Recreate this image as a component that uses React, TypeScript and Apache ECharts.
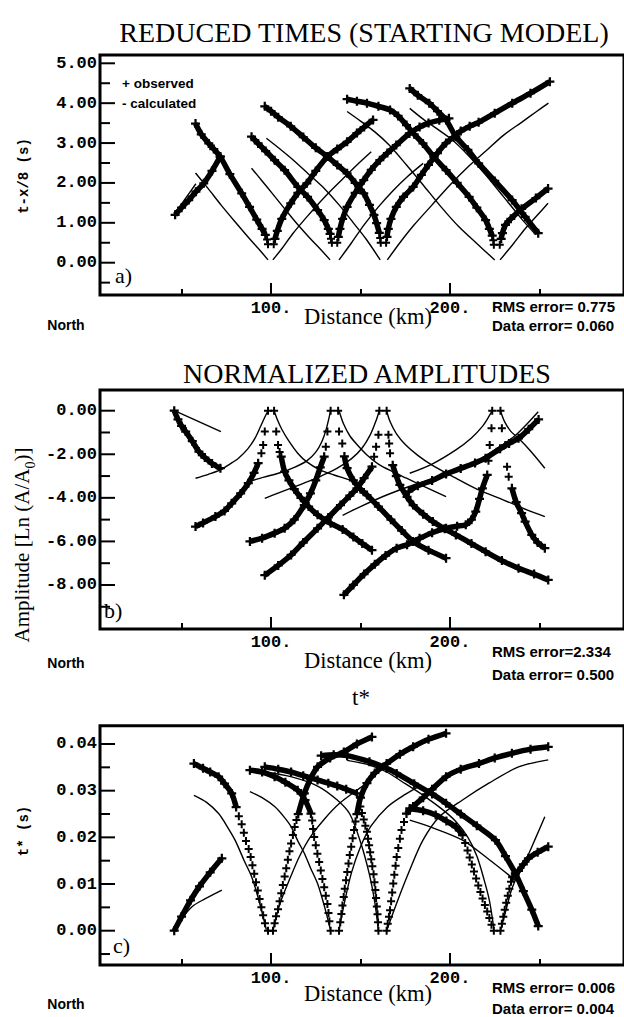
import React, { useEffect, useRef } from "react";
import * as echarts from "echarts";

// ---------------- DATA ----------------
// Panel a) reduced times: observed (dense branches + sparse points), calculated lines
const obsA1 = [[46.4,1.2],[50,1.38],[54,1.57],[58,1.78],[62.4,1.99],[67,2.3],[71.6,2.66]];
const obsA2 = [[57.8,3.49],[61,3.22],[65.2,2.99],[68,2.85],[71.6,2.66],[77,2.22],[83.6,1.74],[88,1.4],[92,1.08],[95,0.85],[96.8,0.7]];
const obsA2s = [[97.8,0.58],[98.3,0.46],[101.5,0.46]];
const obsA3 = [[102.2,0.6],[103.5,0.8],[106,1.1],[111,1.49],[115,1.75],[120,1.99],[125,2.3],[131.5,2.66],[137,2.85],[142.5,3.03],[148,3.25],[152,3.4],[157,3.58]];
const obsA4 = [[89.1,3.16],[92.8,2.99],[97,2.8],[102,2.57],[107.6,2.32],[115,1.9],[120.4,1.65],[126,1.32],[129.7,1.07],[132,0.85],[133,0.72]];
const obsA4s = [[133.5,0.6],[134,0.5],[137,0.5]];
const obsA5 = [[137.6,0.65],[138.5,0.85],[140,1.1],[142.5,1.4],[147,1.75],[151.8,2.07],[156,2.33],[160.8,2.57],[165,2.75],[170,2.95],[177.3,3.24],[183,3.4],[188,3.5],[194,3.57],[199.4,3.62]];
const obsA6 = [[96.5,3.92],[100,3.8],[104,3.65],[111,3.42],[118,3.15],[125,2.88],[131.5,2.66],[137,2.45],[142.5,2.24],[147,2.0],[151.8,1.74],[155,1.45],[157.5,1.2],[159,0.99],[160.5,0.75]];
const obsA6s = [[161,0.62],[161.3,0.5],[164.3,0.5]];
const obsA7 = [[164.8,0.65],[165.5,0.85],[167,1.1],[170,1.4],[174,1.65],[179.4,1.9],[184,2.2],[188,2.45],[193,2.75],[197.8,3.0],[202,3.15],[206,3.3],[211,3.42],[216,3.52],[225,3.75],[234.8,4.0],[245,4.25],[255.8,4.54]];
const obsA8 = [[142.5,4.1],[148,4.05],[153.6,4.0],[160,3.92],[166.5,3.83],[171,3.68],[175.7,3.45],[180,3.22],[184.9,2.99],[191,2.65],[197.8,2.32],[204,2.0],[210.7,1.65],[215,1.38],[219.9,1.07],[222,0.85],[223.6,0.68]];
const obsA8s = [[224.2,0.56],[224.5,0.45],[227.8,0.45]];
const obsA9 = [[228.6,0.6],[229.3,0.74],[231,0.95],[234,1.1],[240,1.35],[248,1.62],[254.8,1.86]];
const obsA10 = [[177.5,4.37],[182,4.2],[188.4,4.0],[193,3.8],[197.8,3.58],[203.3,3.16],[210,2.83],[216,2.49],[225,2.05],[234.7,1.57],[242,1.15],[249.3,0.74]];

const calcA0 = [[46.5,1.25],[52,1.6],[58,1.98]];
const calcA1 = [[57.8,2.25],[65,1.85],[72,1.45],[80,1.02],[88,0.6],[94,0.3],[98.3,0.07]];
const calcA2 = [[101,0.07],[106,0.35],[112,0.72],[120,1.15],[130,1.65],[140,2.1],[148,2.45],[156,2.78]];
const calcA3 = [[89.1,2.37],[95,2.05],[101,1.72],[108,1.33],[115,0.95],[122,0.6],[128,0.32],[133,0.07]];
const calcA4 = [[138,0.07],[145,0.5],[152,0.95],[160,1.4],[168,1.8],[176,2.15],[185,2.49]];
const calcA5 = [[97.4,3.12],[105,2.85],[113,2.55],[121,2.22],[130,1.85],[138,1.45],[146,1.0],[153,0.6],[161,0.07]];
const calcA6 = [[165,0.07],[172,0.5],[180,0.95],[190,1.45],[200,1.95],[210,2.4],[220,2.8],[230,3.2],[240,3.52],[248,3.78],[255,4.0]];
const calcA7 = [[142.5,3.79],[150,3.55],[158,3.28],[166,2.95],[175.7,2.45],[185,1.95],[195,1.4],[205,0.9],[215,0.48],[225,0.07]];
const calcA8 = [[228,0.07],[235,0.45],[242,0.85],[248,1.15],[254.8,1.49]];
const calcA9 = [[177.5,3.87],[185,3.6],[192,3.38],[201.5,3.07],[210,2.7],[220,2.2],[230,1.65],[240,1.1],[248,0.7]];

// Panel b) normalized amplitudes
const obsB1 = [[45.9,0],[48,-0.4],[50,-0.7],[52.3,-0.96],[56,-1.4],[59.7,-1.88],[63,-2.15],[67,-2.42],[71.7,-2.64]];
const obsB2 = [[57.8,-5.32],[62,-5.15],[68.9,-4.86],[74,-4.6],[78,-4.25],[83,-3.8],[87.3,-3.33],[90.5,-2.85],[92.8,-2.41]];
const obsB2s = [[94.6,-1.95],[95.6,-1.57],[96.5,-0.96],[98.3,0],[101.7,0],[102.9,-0.96],[103.9,-1.57],[104.8,-1.9]];
const obsB3 = [[105.7,-2.11],[107.6,-2.8],[110,-3.2],[113,-3.6],[116.7,-4.0],[121,-4.4],[126,-4.78],[133.3,-5.17],[140,-5.45],[146,-5.8],[151,-6.1],[156.4,-6.4]];
const obsB4 = [[88.2,-6.0],[95,-5.85],[102,-5.62],[107.6,-5.4],[113,-5.0],[118.6,-4.33],[122,-3.8],[125,-3.2],[127.5,-2.6],[129.7,-2.11]];
const obsB4s = [[130.6,-1.65],[131.5,-0.96],[133.3,0],[137.5,0],[138,-0.96],[139.8,-1.5]];
const obsB5 = [[141,-2.1],[142.5,-2.64],[146,-3.2],[150,-3.6],[153.6,-3.87],[160,-4.4],[167,-5.0],[173,-5.5],[179.4,-6.0],[188,-6.4],[197.8,-6.77]];
const obsB6 = [[96.5,-7.55],[104,-7.1],[111.2,-6.62],[118,-6.05],[126,-5.4],[132,-4.9],[138.8,-4.33],[144,-3.9],[148,-3.56],[152,-3.1],[156.4,-2.57]];
const obsB6s = [[157.6,-2.11],[158.7,-1.65],[160,-1.1],[160.5,0],[164.6,0],[165.6,-1.1],[166,-1.5],[166.5,-1.95]];
const obsB7 = [[168,-2.5],[170,-3.0],[172,-3.41],[176,-3.95],[179.4,-4.33],[185,-4.75],[190.4,-5.09],[197,-5.42],[203.3,-5.7],[212,-6.1],[219.9,-6.47],[229,-6.88],[238.3,-7.23],[247,-7.5],[254.9,-7.77]];
const obsB8 = [[140.7,-8.45],[146,-8.0],[152,-7.5],[158,-7.05],[164,-6.65],[170.2,-6.31],[176,-6.15],[183,-5.86],[190,-5.6],[197.8,-5.4],[204,-5.3],[208.8,-5.24],[212,-5.0],[214.4,-4.63],[216.5,-4.05],[218.1,-3.56],[220.8,-2.95]];
const obsB8s = [[221.5,-2.3],[222.2,-1.57],[223.2,-0.8],[223.6,0],[228.2,0],[229,-0.8],[230.9,-1.57],[231.9,-2.57],[232.8,-3.03]];
const obsB9 = [[234.6,-3.56],[237,-4.2],[240,-4.7],[242,-5.09],[245.7,-5.7],[249,-6.05],[253,-6.31]];
const obsB10 = [[177,-3.7],[182,-3.45],[190,-3.2],[197.8,-2.9],[206,-2.65],[214,-2.4],[219.9,-2.18],[228,-1.75],[233,-1.5],[238.3,-1.27],[244,-0.85],[249.5,-0.4]];

const calcB1 = [[46,0],[72,-0.96]];
const calcB2 = [[57.8,-3.1],[65,-2.92],[71.7,-2.72],[77,-2.45],[81.8,-2.18],[87,-1.75],[91,-1.27],[94,-0.75],[96.5,-0.3],[98.3,0]];
const calcB3 = [[101.7,0],[103.5,-0.4],[106,-0.85],[110,-1.4],[114.9,-1.95],[120,-2.35],[127,-2.7],[135.2,-2.95],[143,-3.15],[150,-3.35]];
const calcB4 = [[87.3,-3.26],[96,-3.05],[105,-2.85],[113,-2.6],[120,-2.3],[125,-1.9],[128.5,-1.4],[131,-0.8],[133.3,0]];
const calcB5 = [[138,0],[140.5,-0.6],[144,-1.15],[148,-1.55],[153.6,-2.03],[160,-2.45],[168,-2.8],[175.7,-3.1],[186,-3.5],[197.8,-3.94]];
const calcB6 = [[96.5,-4.02],[105,-3.75],[113,-3.5],[120.4,-3.26],[128,-3.0],[137,-2.64],[145,-2.2],[151,-1.7],[155.5,-1.1],[158.5,-0.5],[160.5,0]];
const calcB7 = [[164.6,0],[166.5,-0.5],[170,-1.05],[175,-1.55],[182,-2.05],[190,-2.5],[203.3,-3.1],[215,-3.6],[230,-4.1],[243,-4.55],[253,-4.86]];
const calcB8 = [[140,-4.8],[150,-4.4],[164.6,-3.87],[180,-3.4],[197.8,-2.95],[212,-2.45],[225,-1.8],[237,-1.1],[249.3,-0.05]];
const calcB9 = [[177.5,-2.87],[190,-2.45],[203.3,-1.8],[212,-1.25],[218,-0.73],[221.5,-0.3],[223.6,0]];
const calcB10 = [[228.2,0],[230.5,-0.5],[234,-0.95],[238.3,-1.27],[245,-1.85],[253,-2.64]];

// Panel c) t*
const obsC1 = [[45.9,0],[50,0.003],[55,0.0065],[60,0.0095],[66,0.0125],[72.5,0.0155]];
const obsC2 = [[56.9,0.0358],[62,0.0348],[66,0.034],[70.7,0.033],[74,0.0315],[78,0.0294],[80.5,0.0265]];
const obsC2s = [[82,0.0245],[83.6,0.0228],[84.8,0.021],[86,0.0192],[87.5,0.0175],[88.6,0.0158],[89.6,0.014],[90.6,0.0122],[91.6,0.0104],[92.6,0.0086],[93.6,0.0068],[94.6,0.005],[95.6,0.0033],[96.6,0.0016],[98.3,0]];
const obsC3s = [[101.1,0],[102,0.0016],[102.8,0.0031],[103.9,0.0046],[104.8,0.0063],[105.7,0.008],[106.6,0.0098],[107.6,0.0116],[108.5,0.0134],[109.4,0.0152],[110.3,0.017],[111.2,0.0187],[112.2,0.0205],[113.2,0.0222],[114.2,0.0237]];
const obsC3 = [[115.2,0.025],[118.6,0.0294],[122,0.0325],[126,0.0351],[133,0.037],[140.7,0.0383],[148,0.04],[156.4,0.0415]];
const obsC4 = [[88.2,0.0344],[95,0.034],[102,0.033],[108,0.0318],[114.9,0.0301],[119,0.028],[122.3,0.0251]];
const obsC4s = [[123,0.0236],[123.5,0.0218],[124.1,0.0201],[125,0.0183],[125.9,0.0165],[126.9,0.0147],[127.8,0.0129],[128.7,0.0111],[129.7,0.0093],[130.6,0.0075],[131.5,0.0057],[132.1,0.0038],[132.6,0.002],[133.3,0]];
const obsC5s = [[138,0],[138.7,0.0018],[139.3,0.0036],[139.9,0.0054],[140.6,0.0072],[141.2,0.009],[141.9,0.0108],[142.6,0.0126],[143.3,0.0144],[144,0.0162],[144.8,0.018],[145.6,0.0198],[146.4,0.0216],[147.2,0.0234]];
const obsC5 = [[148,0.025],[150,0.0285],[153.6,0.0316],[158,0.0338],[164.6,0.0358],[172,0.0378],[179.4,0.0394],[188,0.041],[197.8,0.0423]];
const obsC6 = [[96.5,0.0351],[104,0.0346],[111.2,0.034],[118,0.0332],[126,0.0323],[132,0.0316],[137,0.031],[142,0.0303],[148,0.0294]];
const obsC6s = [[149.9,0.0266],[150.8,0.0252],[151.8,0.0238],[152.7,0.0225],[153.6,0.0212],[154.2,0.0197],[154.8,0.0183],[155.4,0.0168],[156,0.0153],[156.6,0.0138],[157.3,0.0121],[157.8,0.0104],[158.3,0.0087],[158.7,0.007],[159.1,0.0052],[159.5,0.0035],[159.8,0.0018],[160,0]];
const obsC7s = [[164.6,0],[165.2,0.0015],[165.9,0.003],[166.5,0.0044],[167.1,0.0063],[167.7,0.0082],[168.3,0.0101],[168.9,0.012],[169.6,0.0139],[170.2,0.0158],[171.1,0.0177],[172,0.0197],[172.9,0.0216],[174.3,0.0233]];
const obsC7 = [[175.7,0.0251],[179.4,0.0266],[185,0.0285],[190,0.0303],[197.8,0.033],[206,0.0346],[216.2,0.0358],[225,0.037],[234.6,0.038],[245,0.0389],[254.9,0.0394]];
const obsC8 = [[177.5,0.0262],[185,0.0257],[192,0.0248],[198,0.0235],[203.3,0.0222],[207,0.0205]];
const obsC8s = [[208.5,0.0188],[209.8,0.0172],[211,0.0157],[212.2,0.0142],[213.4,0.0127],[214.6,0.0112],[215.8,0.0097],[217,0.0083],[218.2,0.0069],[219.5,0.0055],[220.8,0.0041],[222,0.0027],[223.2,0.0013],[224.5,0]];
const obsC9 = [[128,0.0375],[135,0.0377],[142.5,0.0375],[155,0.0362],[164.6,0.0348],[170.2,0.0337],[180,0.0315],[190,0.0293],[197.8,0.0273],[206,0.025],[215,0.0225],[225.4,0.0194],[231,0.016],[236.5,0.0123],[241,0.0085],[245.7,0.0045],[249.3,0.001]];
const obsC10s = [[228.2,0],[229,0.0015],[229.8,0.003],[230.6,0.0045],[231.4,0.006],[232.3,0.0075],[233.2,0.009],[234.1,0.0105]];
const obsC10 = [[235,0.0115],[238.3,0.0128],[241,0.0142],[243.8,0.0155],[249,0.0168],[254.9,0.018]];

const calcC1 = [[46,0],[50,0.0025],[56,0.0052],[63,0.0068],[72.5,0.0087]];
const calcC2 = [[56.9,0.029],[64,0.0275],[70.7,0.0251],[76,0.022],[79.9,0.0194],[85,0.015],[89.1,0.0116],[93,0.0068],[97.4,0.0002]];
const calcC3 = [[101.1,0],[105,0.0058],[111,0.0116],[116,0.016],[122,0.0201],[130,0.024],[138,0.0272],[148,0.0301],[156.4,0.0323]];
const calcC4 = [[88.2,0.0298],[95,0.0285],[102,0.0266],[107,0.0245],[111.2,0.0223],[115,0.0192],[118.6,0.0166],[122,0.0135],[126,0.0101],[130,0.005],[133.3,0]];
const calcC5 = [[138,0],[141,0.006],[145,0.0125],[150,0.018],[156,0.0225],[165,0.0265],[175,0.0292],[184,0.0312]];
const calcC6 = [[96.5,0.034],[111,0.033],[126,0.031],[137,0.028],[144,0.025],[150,0.019],[155,0.012],[158,0.006],[160,0]];
const calcC7 = [[164.6,0],[170.2,0.0059],[177.5,0.013],[184.9,0.0194],[194.1,0.0244],[207,0.028],[221.7,0.0316],[238.3,0.0351],[254.9,0.0366]];
const calcC8 = [[142.5,0.0365],[155,0.0355],[164.6,0.034],[175,0.0315],[185,0.029],[195,0.0262],[203,0.0235],[210,0.02],[215,0.016],[219,0.011],[222,0.0065],[224.5,0.0005]];
const calcC9 = [[177.5,0.0237],[188.6,0.0223],[207,0.0194],[222,0.0152],[236.5,0.0108]];
const calcC10 = [[228.2,0],[231,0.004],[234,0.0083],[236.5,0.0108],[240,0.0135],[244,0.0165],[248,0.02],[253,0.0244]];

// Axis ticks / labels
const xMajorTicks = [100, 200];
const xMinorTicks = [50, 150, 250];
const yMajorA = [0, 1, 2, 3, 4, 5];
const yMinorA = [-0.5, 0.5, 1.5, 2.5, 3.5, 4.5];
const yMajorB = [-8, -6, -4, -2, 0];
const yMinorB = [-9, -7, -5, -3, -1];
const yMajorC = [0, 0.01, 0.02, 0.03, 0.04];
const yMinorC = [-0.005, 0.005, 0.015, 0.025, 0.035];

const titles = ["REDUCED TIMES (STARTING MODEL)", "NORMALIZED AMPLITUDES", "t*"];
const rmsTexts = ["RMS error= 0.775", "RMS error=2.334", "RMS error= 0.006"];
const dataErrTexts = ["Data error= 0.060", "Data error= 0.500", "Data error= 0.004"];
const panelLetters = ["a)", "b)", "c)"];

// ---------------- LAYOUT ----------------
const XMIN = 100 - 173 / 1.81;
const XMAX = 100 + 357 / 1.81;
const GRID_LEFT = 100;
const GRIDS = [
  { top: 55, height: 240, ymin: -0.81, ymax: 5.208 },
  { top: 390, height: 239, ymin: -10.02, ymax: 0.95 },
  { top: 725.7, height: 239.3, ymin: -0.00735, ymax: 0.04392 },
];
const PLUS = "path://M3,0H5V3H8V5H5V8H3V5H0V3H3Z";
const MONO = '"Liberation Mono", "DejaVu Sans Mono", monospace';
const SERIF = '"Liberation Serif", "DejaVu Serif", serif';
const SANS = '"Liberation Sans", Arial, sans-serif';

const obsDense = [
  [obsA1, obsA2, obsA3, obsA4, obsA5, obsA6, obsA7, obsA8, obsA9, obsA10],
  [obsB1, obsB2, obsB3, obsB4, obsB5, obsB6, obsB7, obsB8, obsB9, obsB10],
  [obsC1, obsC2, obsC3, obsC4, obsC5, obsC6, obsC7, obsC8, obsC9, obsC10],
];
const obsSparse = [
  [obsA2s, obsA4s, obsA6s, obsA8s],
  [obsB2s, obsB4s, obsB6s, obsB8s],
  [obsC2s, obsC3s, obsC4s, obsC5s, obsC6s, obsC7s, obsC8s, obsC10s],
];
const calcLines = [
  [calcA0, calcA1, calcA2, calcA3, calcA4, calcA5, calcA6, calcA7, calcA8, calcA9],
  [calcB1, calcB2, calcB3, calcB4, calcB5, calcB6, calcB7, calcB8, calcB9, calcB10],
  [calcC1, calcC2, calcC3, calcC4, calcC5, calcC6, calcC7, calcC8, calcC9, calcC10],
];
const yMajors = [yMajorA, yMajorB, yMajorC];
const yMinors = [yMinorA, yMinorB, yMinorC];

// pixel y of an axis value (same linear mapping as the value axis), refined with convertToPixel when possible
function tickY(p: number, v: number) {
  const g = GRIDS[p];
  return g.top + (g.height * (g.ymax - v)) / (g.ymax - g.ymin);
}

function yTickElements(chart?: any) {
  const out: any[] = [];
  for (let p = 0; p < 3; p++) {
    const sets: [number[], number, string][] = [[yMajors[p], 15, "M"], [yMinors[p], 10, "m"]];
    sets.forEach(([vals, len, tag]) => {
      vals.forEach((v, i) => {
        let y = tickY(p, v);
        if (chart) {
          try {
            const pt = chart.convertToPixel({ gridIndex: p }, [XMIN, v]);
            if (pt && isFinite(pt[1])) y = pt[1];
          } catch (e) { /* keep linear position */ }
        }
        out.push({
          id: `yt${p}${tag}${i}`, type: "rect", silent: true, z: 100,
          shape: { x: GRID_LEFT, y: y - 1, width: len, height: 2 },
          style: { fill: "#000" },
        });
      });
    });
  }
  return out;
}

function buildOption() {
  const grid: any[] = [];
  const xAxis: any[] = [];
  const yAxis: any[] = [];
  const series: any[] = [];
  const hiddenLine = { show: false, onZero: false };
  GRIDS.forEach((g, p) => {
    grid.push({
      left: GRID_LEFT, top: g.top, width: 530, height: g.height,
      show: true, borderColor: "#000", borderWidth: 3, backgroundColor: "transparent",
    });
    xAxis.push({
      gridIndex: p, type: "value", min: XMIN, max: XMAX, position: "bottom",
      axisLine: hiddenLine, splitLine: { show: false },
      axisTick: { show: true, inside: true, length: 12, lineStyle: { color: "#000", width: 2 }, customValues: xMajorTicks },
      axisLabel: {
        show: true, customValues: xMajorTicks, formatter: (v: number) => v + ".",
        margin: 5, color: "#000", fontFamily: MONO, fontSize: 17, fontWeight: "bold",
      },
    });
    xAxis.push({
      gridIndex: p, type: "value", min: XMIN, max: XMAX, position: "bottom",
      axisLine: hiddenLine, splitLine: { show: false },
      axisTick: { show: true, inside: true, length: 6, lineStyle: { color: "#000", width: 2 }, customValues: xMinorTicks },
      axisLabel: { show: false },
    });
    yAxis.push({
      gridIndex: p, type: "value", min: g.ymin, max: g.ymax, position: "left",
      axisLine: hiddenLine, splitLine: { show: false },
      axisTick: { show: false },
      axisLabel: {
        show: true, customValues: yMajors[p].slice(), formatter: (v: number) => v.toFixed(2),
        margin: 3, color: "#000", fontFamily: MONO, fontSize: 17, fontWeight: "bold",
      },
    });
    const xi = p * 2;
    const yi = p;
    calcLines[p].forEach((d) => {
      series.push({
        type: "line", xAxisIndex: xi, yAxisIndex: yi, data: d, smooth: 0.3,
        symbol: "none", showSymbol: false, silent: true,
        lineStyle: { color: "#000", width: 1.4 },
      });
    });
    obsDense[p].forEach((d) => {
      series.push({
        type: "line", xAxisIndex: xi, yAxisIndex: yi, data: d, smooth: 0.3,
        symbol: PLUS, symbolSize: 9, showSymbol: true, showAllSymbol: true, silent: true,
        itemStyle: { color: "#000", opacity: 1 },
        lineStyle: { color: "#000", width: 5.5 },
      });
    });
    obsSparse[p].forEach((d) => {
      series.push({
        type: "scatter", xAxisIndex: xi, yAxisIndex: yi, data: d,
        symbol: PLUS, symbolSize: 8, silent: true,
        itemStyle: { color: "#000", opacity: 1 },
      });
    });
  });

  let gid = 0;
  const txt = (x: number, y: number, text: string, font: string, align = "center", extra: any = {}) => ({
    id: "tx" + gid++, type: "text", x, y, silent: true, ...extra,
    style: { text, font, fill: "#000", align, verticalAlign: "middle", textAlign: align, textVerticalAlign: "middle" },
  });

  const graphic: any[] = [
    txt(364, 32, titles[0], `28px ${SERIF}`),
    txt(367, 373, titles[1], `28px ${SERIF}`),
    txt(361, 697, titles[2], `23px ${SERIF}`),
    txt(24, 176, "t-x/8 (s)", `bold 14px ${MONO}`, "center", { rotation: Math.PI / 2 }),
    {
      id: "ampName", type: "text", x: 22, y: 545, rotation: Math.PI / 2, silent: true,
      style: {
        text: "{m|Amplitude [Ln (A/A}{s|0}{m|)]}",
        fill: "#000", align: "center", verticalAlign: "middle", textAlign: "center", textVerticalAlign: "middle",
        rich: {
          m: { fontFamily: SERIF, fontSize: 21, lineHeight: 30, verticalAlign: "middle", fill: "#000" },
          s: { fontFamily: SERIF, fontSize: 14, lineHeight: 30, verticalAlign: "bottom", fill: "#000" },
        },
      },
    },
    txt(24, 831, "t* (s)", `bold 14px ${MONO}`, "center", { rotation: Math.PI / 2 }),
    txt(122, 83, "+ observed", `bold 13.5px ${SANS}`, "left"),
    txt(122, 103, "- calculated", `bold 13.5px ${SANS}`, "left"),
  ];
  const letterPos = [[115, 275], [104, 610], [113, 945]];
  const distY = [316, 660, 993];
  const rmsY = [306, 651, 987];
  const dataY = [325, 674, 1008];
  const northY = [325, 663, 1004];
  for (let p = 0; p < 3; p++) {
    graphic.push(txt(letterPos[p][0], letterPos[p][1], panelLetters[p], `22px ${SERIF}`, "left"));
    graphic.push(txt(368, distY[p], "Distance (km)", `22.5px ${SERIF}`));
    graphic.push(txt(492, rmsY[p], rmsTexts[p], `bold 15px ${SANS}`, "left"));
    graphic.push(txt(492, dataY[p], dataErrTexts[p], `bold 15px ${SANS}`, "left"));
    graphic.push(txt(66, northY[p], "North", `bold 14px ${SANS}`));
  }
  yTickElements().forEach((e) => graphic.push(e));

  return { animation: false, backgroundColor: "#fff", grid, xAxis, yAxis, series, graphic };
}

export default function App() {
  const ref = useRef<HTMLDivElement>(null);
  useEffect(() => {
    if (!ref.current) return;
    const chart = echarts.init(ref.current, undefined, { renderer: "svg" });
    const option: any = buildOption();
    chart.setOption(option);
    try {
      const refined = yTickElements(chart);
      const base = option.graphic.filter((e: any) => !String(e.id).startsWith("yt"));
      chart.setOption({ graphic: base.concat(refined) });
    } catch (e) { /* keep initial ticks */ }
    return () => chart.dispose();
  }, []);
  return <div ref={ref} style={{ position: "absolute", left: 0, top: 0, width: 624, height: 1017 }} />;
}
